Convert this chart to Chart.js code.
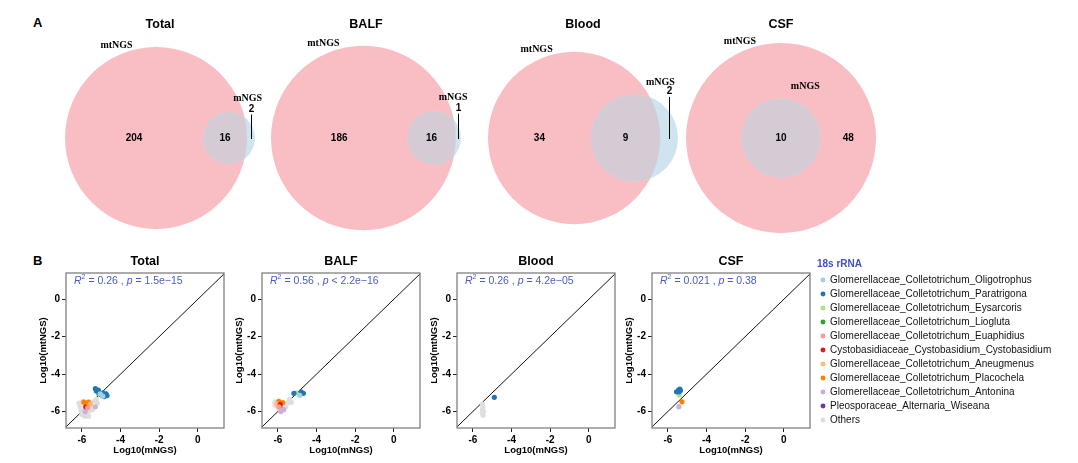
<!DOCTYPE html>
<html>
<head>
<meta charset="utf-8">
<script src="https://cdn.jsdelivr.net/npm/chart.js"></script>
<style>
  body { margin: 0; background: #fff; width: 1078px; height: 463px; position: relative; overflow: hidden;
         font-family: "Liberation Sans", Arial, Helvetica, sans-serif; }
  canvas { position: absolute; }
  .tag { position: absolute; font-weight: bold; font-size: 13px; line-height: 15px; }
</style>
</head>
<body>
<div class="tag" style="left:33px;top:15px">A</div>
<div class="tag" style="left:33px;top:253px">B</div>

<script>
  // ---- A: Venn counts ----
  const vennTitles = ["Total", "BALF", "Blood", "CSF"];
  const setNames = ["mtNGS", "mNGS"];
  const mtOnly = [204, 186, 34, 48];
  const bothSets = [16, 16, 9, 10];
  const mOnly = [2, 1, 2, 0];

  // ---- B: scatter, log10 abundance (x = mNGS, y = mtNGS) ----
  const panelTitles = ["Total", "BALF", "Blood", "CSF"];
  const r2Values = ["0.26", "0.56", "0.26", "0.021"];
  const pValues = ["= 1.5e\u221215", "< 2.2e\u221216", "= 4.2e\u221205", "= 0.38"];
  const xTicks = [-6, -4, -2, 0];
  const yTicks = [-6, -4, -2, 0];
  const identityLine = [-8, 2];

  const species = [
    "Glomerellaceae_Colletotrichum_Oligotrophus",
    "Glomerellaceae_Colletotrichum_Paratrigona",
    "Glomerellaceae_Colletotrichum_Eysarcoris",
    "Glomerellaceae_Colletotrichum_Liogluta",
    "Glomerellaceae_Colletotrichum_Euaphidius",
    "Cystobasidiaceae_Cystobasidium_Cystobasidium",
    "Glomerellaceae_Colletotrichum_Aneugmenus",
    "Glomerellaceae_Colletotrichum_Placochela",
    "Glomerellaceae_Colletotrichum_Antonina",
    "Pleosporaceae_Alternaria_Wiseana",
    "Others"
  ];
  const speciesColors = ["#a6cee3", "#1f78b4", "#b2df8a", "#33a02c", "#fb9a99", "#e31a1c",
                         "#fdbf6f", "#ff7f00", "#cab2d6", "#6a3d9a", "#dedede"];

  const totalPts = [
    [[-5.05, -5.05], [-4.92, -5.18]],
    [[-5.3, -4.78], [-5.25, -4.9], [-5.15, -4.85], [-5.1, -4.98], [-4.9, -5.0], [-4.75, -5.05], [-4.7, -5.15], [-4.85, -5.2], [-5.0, -5.1]],
    [[-5.06, -5.08]],
    [[-5.12, -5.05]],
    [[-5.7, -5.8]],
    [[-5.8, -5.75]],
    [[-5.55, -5.6]],
    [[-5.9, -5.5], [-5.66, -5.49]],
    [[-5.83, -6.0], [-5.3, -5.75]],
    [],
    [[-6.15, -5.55], [-6.1, -5.75], [-6.05, -5.95], [-6.0, -6.15], [-5.85, -6.25], [-5.75, -6.1], [-5.65, -6.25],
     [-5.6, -5.95], [-5.5, -5.7], [-5.35, -5.45], [-5.25, -5.35], [-5.45, -5.9], [-5.8, -5.6], [-5.95, -5.45],
     [-5.65, -5.5], [-5.9, -5.95], [-5.2, -5.55]]
  ];
  const balfPts = [
    [[-4.87, -5.13]],
    [[-5.17, -5.03], [-4.8, -4.95], [-4.68, -5.03]],
    [[-5.05, -5.0]],
    [],
    [[-5.95, -5.75]],
    [[-5.88, -5.62]],
    [[-6.05, -5.6]],
    [[-5.95, -5.45], [-5.75, -5.52]],
    [[-5.85, -6.0], [-5.7, -5.9]],
    [],
    [[-6.15, -5.5], [-6.05, -5.7], [-5.95, -5.85], [-5.5, -5.55], [-5.4, -5.35], [-5.3, -5.5], [-6.15, -5.65],
     [-5.75, -5.6], [-5.6, -5.75], [-6.0, -5.5]]
  ];
  const bloodPts = [
    [], [[-4.89, -5.24]], [], [], [], [], [], [], [], [],
    [[-5.5, -5.6], [-5.48, -5.75], [-5.5, -5.9], [-5.45, -6.0], [-5.5, -6.1], [-5.47, -6.2]]
  ];
  const csfPts = [
    [],
    [[-5.55, -4.95], [-5.45, -4.85], [-5.38, -4.8], [-5.42, -4.95], [-5.35, -4.88]],
    [[-5.41, -5.12]],
    [], [], [], [],
    [[-5.27, -5.48]],
    [[-5.43, -5.74]],
    [],
    []
  ];
  const panelPts = [totalPts, balfPts, bloodPts, csfPts];

  // ---- layout ----
  const sans = '"Liberation Sans", Arial, Helvetica, sans-serif';
  const serif = '"Liberation Serif", "Times New Roman", serif';
  Chart.defaults.font.family = sans;
  Chart.defaults.color = "#000";

  const vennMid = [160, 366, 583, 781];
  const VENN_W = 240, VENN_H = 250, VENN_CY = 138, VENN_TOP = 32.5, VENN_FIT = 190;
  const pink = "#f8bec4", blue = "#cfe4ef", overlap = "#d4cbd4";

  const plotLeft = [66, 262, 457, 652];
  const PLOT_W = 158, PANEL_TOP = 250, PANEL_H = 210, AXIS_W = 32, AXIS_H = 32;

  function makeCanvas(x, y, w, h) {
    const c = document.createElement("canvas");
    c.width = w; c.height = h;
    c.style.left = x + "px"; c.style.top = y + "px";
    c.style.width = w + "px"; c.style.height = h + "px";
    document.body.appendChild(c);
    return c;
  }

  // area of the lens between two circles
  function lens(r1, r2, d) {
    if (d >= r1 + r2) return 0;
    if (d <= Math.abs(r1 - r2)) return Math.PI * Math.min(r1, r2) ** 2;
    const a = r1 * r1 * Math.acos((d * d + r1 * r1 - r2 * r2) / (2 * d * r1));
    const b = r2 * r2 * Math.acos((d * d + r2 * r2 - r1 * r1) / (2 * d * r2));
    const c = 0.5 * Math.sqrt((-d + r1 + r2) * (d + r1 - r2) * (d - r1 + r2) * (d + r1 + r2));
    return a + b - c;
  }
  function centreGap(r1, r2, area) {
    let lo = Math.abs(r1 - r2), hi = r1 + r2;
    for (let i = 0; i < 80; i++) {
      const m = (lo + hi) / 2;
      if (lens(r1, r2, m) > area) lo = m; else hi = m;
    }
    return (lo + hi) / 2;
  }
  const pxLen = (chart, v) => chart.scales.x.getPixelForValue(v) - chart.scales.x.getPixelForValue(0);

  const vennDecor = {
    id: "vennDecor",
    afterDatasetsDraw(chart, args, o) {
      const { ctx } = chart;
      const bx = chart.scales.x.getPixelForValue(0);
      const sx = chart.scales.x.getPixelForValue(o.d);
      const cy = chart.scales.y.getPixelForValue(0);
      const RB = pxLen(chart, o.rB), RS = pxLen(chart, o.rS);

      ctx.save();
      ctx.beginPath(); ctx.arc(bx, cy, RB, 0, 2 * Math.PI); ctx.clip();
      ctx.beginPath(); ctx.arc(sx, cy, RS, 0, 2 * Math.PI);
      ctx.fillStyle = overlap; ctx.fill();
      ctx.restore();

      ctx.save();
      ctx.font = "bold 10px " + sans;
      ctx.fillStyle = "#000"; ctx.strokeStyle = "#000"; ctx.lineWidth = 1;
      ctx.textAlign = "center"; ctx.textBaseline = "middle";
      const bigL = bx - RB, bigR = bx + RB, smL = sx - RS, smR = sx + RS;
      if (o.onlyB > 0) {
        ctx.fillText(o.onlyA, (bigL + smL) / 2, cy);
        ctx.fillText(o.both, (smL + bigR) / 2, cy);
        const ox = Math.round((bigR + smR) / 2) + 0.5;
        if (smR - bigR < 25) {
          ctx.beginPath(); ctx.moveTo(ox, cy + 1); ctx.lineTo(ox, cy - RS + 2.5); ctx.stroke();
          ctx.fillText(o.onlyB, ox, cy - RS - 3);
        } else {
          ctx.fillText(o.onlyB, ox, cy);
        }
      } else {
        ctx.fillText(o.both, sx, cy);
        ctx.fillText(o.onlyA, (smR + bigR) / 2, cy);
      }
      ctx.font = "bold 10px " + serif;
      const a1 = 23 * Math.PI / 180, a2 = 25 * Math.PI / 180;
      ctx.fillText(setNames[0], bx - (RB + 10) * Math.sin(a1), cy - (RB + 10) * Math.cos(a1));
      ctx.fillText(setNames[1], sx + (RS + 18) * Math.sin(a2), cy - (RS + 18) * Math.cos(a2));
      ctx.restore();
    }
  };

  vennTitles.forEach((name, i) => {
    const rB = Math.sqrt(mtOnly[i] + bothSets[i]);
    const rS = Math.sqrt(mOnly[i] + bothSets[i]);
    const d = mOnly[i] === 0 ? 0 : centreGap(rB, rS, Math.PI * bothSets[i]);
    const lo = -rB, hi = Math.max(rB, d + rS);
    const k = VENN_FIT / Math.max(hi - lo, 2 * rB);   // pixels per unit on both axes
    const mid = (lo + hi) / 2;
    const cv = makeCanvas(vennMid[i] - VENN_W / 2, 0, VENN_W, VENN_H);

    new Chart(cv, {
      type: "bubble",
      data: {
        datasets: [
          { label: setNames[1], data: [{ x: d, y: 0, r: rS * k }], backgroundColor: blue, borderWidth: 0, clip: false },
          { label: setNames[0], data: [{ x: 0, y: 0, r: rB * k }], backgroundColor: pink, borderWidth: 0, clip: false }
        ]
      },
      options: {
        responsive: false, animation: false, events: [],
        layout: { padding: 0, autoPadding: false },
        plugins: {
          legend: { display: false },
          tooltip: { enabled: false },
          title: { display: true, text: name, color: "#000", font: { size: 12.5, weight: "bold" }, padding: { top: 17.5, bottom: 0 } },
          vennDecor: { rB, rS, d, onlyA: mtOnly[i], both: bothSets[i], onlyB: mOnly[i] }
        },
        scales: {
          x: { type: "linear", display: false, min: mid - VENN_W / 2 / k, max: mid + VENN_W / 2 / k },
          y: { type: "linear", display: false, min: -(VENN_H - VENN_CY) / k, max: (VENN_CY - VENN_TOP) / k }
        }
      },
      plugins: [vennDecor]
    });
  });

  // frame and R^2 / p text for each scatter panel
  const panelDecor = {
    id: "panelDecor",
    afterDatasetsDraw(chart, args, o) {
      const { ctx, chartArea: a } = chart;
      ctx.save();
      ctx.strokeStyle = "#808080"; ctx.lineWidth = 1.3;
      ctx.strokeRect(a.left, a.top, a.right - a.left, a.bottom - a.top);

      ctx.fillStyle = "#4a5cc6"; ctx.textBaseline = "middle"; ctx.textAlign = "left";
      let x = a.left + 8;
      const y = a.top + 8;
      const put = (txt, font, dy) => { ctx.font = font; ctx.fillText(txt, x, y + (dy || 0)); x += ctx.measureText(txt).width; };
      put("R", "italic 10.5px " + sans);
      put("2", "7px " + sans, -4);
      put(" = " + o.r2 + " , ", "10.5px " + sans);
      put("p", "italic 10.5px " + sans);
      put(" " + o.p, "10.5px " + sans);
      ctx.restore();
    }
  };

  panelTitles.forEach((name, i) => {
    const isLast = i === panelTitles.length - 1;
    const legendW = 240, gapW = 7;
    const w = AXIS_W + PLOT_W + (isLast ? gapW + legendW : 4);
    const cv = makeCanvas(plotLeft[i] - AXIS_W, PANEL_TOP, w, PANEL_H);

    const datasets = species.map((sp, j) => ({
      type: "scatter",
      label: sp,
      data: panelPts[i][j].map(([x, y]) => ({ x, y })),
      backgroundColor: speciesColors[j],
      borderWidth: 0,
      pointRadius: 2.6,
      pointStyle: "circle"
    }));
    datasets.push({
      type: "line", label: "y = x",
      data: identityLine.map(v => ({ x: v, y: v })),
      borderColor: "#111", borderWidth: 1, pointRadius: 0, fill: false
    });

    const tickFont = { size: 10, weight: "bold" };
    const scales = {
      x: {
        type: "linear", min: -6.82, max: 1.35,
        afterFit: s => { s.height = AXIS_H; },
        afterBuildTicks: s => { s.ticks = xTicks.map(v => ({ value: v })); },
        ticks: { font: tickFont, color: "#000", padding: 2, maxRotation: 0 },
        grid: { drawOnChartArea: false, tickLength: 4, color: "#222" },
        border: { display: false },
        title: { display: true, text: "Log10(mNGS)", color: "#000", font: { size: 9.5, weight: "bold" }, padding: { top: 0, bottom: 3.6 } }
      },
      y: {
        type: "linear", min: -6.88, max: 1.4,
        afterFit: s => { s.width = AXIS_W; },
        afterBuildTicks: s => { s.ticks = yTicks.map(v => ({ value: v })); },
        ticks: { font: tickFont, color: "#000", padding: 2 },
        grid: { drawOnChartArea: false, tickLength: 4, color: "#222" },
        border: { display: false },
        title: { display: true, text: "Log10(mtNGS)", color: "#000", font: { size: 9.5, weight: "bold" }, padding: { top: 3.3, bottom: 0 } }
      }
    };
    if (isLast) {
      scales.y2 = {
        type: "linear", position: "right", display: true,
        afterFit: s => { s.width = gapW; },
        ticks: { display: false }, grid: { display: false }, border: { display: false }
      };
    }

    new Chart(cv, {
      type: "scatter",
      data: { datasets },
      options: {
        responsive: false, animation: false, events: [],
        layout: { padding: { right: isLast ? 0 : 4 } },
        plugins: {
          tooltip: { enabled: false },
          title: { display: true, text: name, fullSize: false, color: "#000", font: { size: 12.5, weight: "bold" }, padding: { top: 4, bottom: 4 } },
          legend: isLast ? {
            display: true, position: "right", align: "start", maxWidth: legendW,
            title: { display: true, text: "18s rRNA", position: "start", color: "#3f51c4", font: { size: 10, weight: "bold" }, padding: { top: 9, bottom: 0 } },
            labels: {
              usePointStyle: true, boxWidth: 4, boxHeight: 3.5, padding: 4, color: "#111", font: { size: 10 },
              filter: item => item.datasetIndex < species.length
            }
          } : { display: false },
          panelDecor: { r2: r2Values[i], p: pValues[i] }
        },
        scales
      },
      plugins: [panelDecor]
    });
  });
</script>
</body>
</html>
